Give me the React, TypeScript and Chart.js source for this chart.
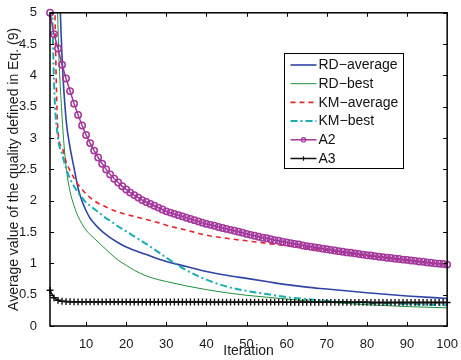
import React, { useEffect, useRef } from "react";
import { Chart, registerables } from "chart.js";

Chart.register(...registerables);

// ---------- data ----------
const seriesLabels = ["RD\u2212average", "RD\u2212best", "KM\u2212average", "KM\u2212best", "A2", "A3"];

const lineIterations = [1, 2, 3, 4, 5, 6, 7, 8, 9, 10, 11, 12, 13, 14, 15, 16, 18, 20, 22, 25, 28, 30, 35, 40, 45, 50, 55, 60, 65, 70, 80, 90, 100];

const rdAverage = [14, 10, 6.3, 4.3, 3.3, 2.85, 2.52, 2.2, 1.99, 1.84, 1.72, 1.64, 1.57, 1.51, 1.46, 1.41, 1.33, 1.26, 1.21, 1.14, 1.07, 1.03, 0.95, 0.87, 0.81, 0.76, 0.71, 0.66, 0.62, 0.59, 0.53, 0.48, 0.44];

const rdBest = [14, 8, 4.75, 3.35, 2.55, 2.15, 1.92, 1.75, 1.63, 1.53, 1.46, 1.4, 1.34, 1.28, 1.22, 1.16, 1.05, 0.97, 0.89, 0.8, 0.74, 0.71, 0.64, 0.58, 0.53, 0.49, 0.46, 0.43, 0.4, 0.38, 0.34, 0.31, 0.29];

const kmAverage = [12, 6.0, 3.1, 2.85, 2.62, 2.48, 2.36, 2.26, 2.18, 2.11, 2.05, 2.0, 1.96, 1.93, 1.9, 1.87, 1.82, 1.78, 1.75, 1.7, 1.65, 1.61, 1.53, 1.45, 1.4, 1.36, 1.32, 1.28, 1.245, 1.21, 1.12, 1.05, 0.98];

const kmBest = [7, 3.9, 3.0, 2.75, 2.52, 2.35, 2.23, 2.13, 2.05, 1.97, 1.92, 1.87, 1.82, 1.77, 1.72, 1.68, 1.59, 1.51, 1.43, 1.31, 1.18, 1.09, 0.89, 0.74, 0.63, 0.56, 0.51, 0.46, 0.43, 0.4, 0.37, 0.35, 0.33];

const markerIterations = [
  1, 2, 3, 4, 5, 6, 7, 8, 9, 10, 11, 12, 13, 14, 15, 16, 17, 18, 19, 20,
  21, 22, 23, 24, 25, 26, 27, 28, 29, 30, 31, 32, 33, 34, 35, 36, 37, 38, 39, 40,
  41, 42, 43, 44, 45, 46, 47, 48, 49, 50, 51, 52, 53, 54, 55, 56, 57, 58, 59, 60,
  61, 62, 63, 64, 65, 66, 67, 68, 69, 70, 71, 72, 73, 74, 75, 76, 77, 78, 79, 80,
  81, 82, 83, 84, 85, 86, 87, 88, 89, 90, 91, 92, 93, 94, 95, 96, 97, 98, 99, 100,
];

const a2Values = [
  5.0, 4.66, 4.43, 4.17, 3.95, 3.75, 3.55, 3.37, 3.2, 3.05,
  2.92, 2.8, 2.69, 2.59, 2.5, 2.42, 2.35, 2.29, 2.23, 2.18,
  2.13, 2.09, 2.05, 2.01, 1.98, 1.95, 1.92, 1.89, 1.86, 1.83,
  1.81, 1.79, 1.77, 1.75, 1.73, 1.71, 1.69, 1.67, 1.65, 1.63,
  1.615, 1.6, 1.58, 1.565, 1.55, 1.535, 1.52, 1.505, 1.49, 1.47,
  1.455, 1.44, 1.425, 1.41, 1.4, 1.385, 1.37, 1.36, 1.345, 1.335,
  1.32, 1.31, 1.3, 1.285, 1.275, 1.265, 1.255, 1.245, 1.235, 1.225,
  1.215, 1.205, 1.195, 1.185, 1.175, 1.17, 1.16, 1.15, 1.14, 1.13,
  1.125, 1.115, 1.105, 1.1, 1.09, 1.085, 1.075, 1.07, 1.06, 1.055,
  1.045, 1.04, 1.03, 1.025, 1.015, 1.01, 1.0, 0.995, 0.99, 0.98,
];

const a3Values = [
  0.57, 0.45, 0.41, 0.395, 0.39, 0.388, 0.386, 0.385, 0.385, 0.385,
  0.385, 0.385, 0.385, 0.385, 0.385, 0.385, 0.385, 0.385, 0.385, 0.385,
  0.383, 0.383, 0.383, 0.383, 0.383, 0.383, 0.383, 0.383, 0.383, 0.383,
  0.383, 0.383, 0.383, 0.383, 0.383, 0.383, 0.383, 0.383, 0.383, 0.383,
  0.38, 0.38, 0.38, 0.38, 0.38, 0.38, 0.38, 0.38, 0.38, 0.38,
  0.38, 0.38, 0.38, 0.38, 0.38, 0.38, 0.38, 0.38, 0.38, 0.38,
  0.378, 0.378, 0.378, 0.378, 0.378, 0.378, 0.378, 0.378, 0.378, 0.378,
  0.378, 0.378, 0.378, 0.378, 0.378, 0.378, 0.378, 0.378, 0.378, 0.378,
  0.376, 0.376, 0.376, 0.376, 0.376, 0.376, 0.376, 0.376, 0.376, 0.376,
  0.376, 0.376, 0.376, 0.376, 0.376, 0.376, 0.376, 0.376, 0.376, 0.376,
];

const xTickValues = [10, 20, 30, 40, 50, 60, 70, 80, 90, 100];
const yTickValues = [0, 0.5, 1, 1.5, 2, 2.5, 3, 3.5, 4, 4.5, 5];

const xTitle = "Iteration";
const yTitle = "Average value of the quality defined in Eq. (9)";

// ---------- helpers ----------
const FONT = "'Liberation Sans', Arial, Helvetica, sans-serif";

function pairs(xs: number[], ys: number[]) {
  return xs.map((x, i) => ({ x, y: ys[i] }));
}

function drawMarker(ctx: CanvasRenderingContext2D, style: string, x: number, y: number, r: number) {
  ctx.beginPath();
  if (style === "circle") {
    ctx.arc(x, y, r, 0, Math.PI * 2);
  } else if (style === "cross") {
    ctx.moveTo(x - r, y);
    ctx.lineTo(x + r, y);
    ctx.moveTo(x, y - r);
    ctx.lineTo(x, y + r);
  }
  ctx.stroke();
}

const framePlugin = {
  id: "matlabFrame",
  afterDatasetsDraw(chart: any) {
    const { ctx, chartArea, scales } = chart;
    const { left, right, top, bottom } = chartArea;
    const tl = 4;
    ctx.save();
    ctx.strokeStyle = "#000";
    ctx.lineWidth = 1;
    ctx.setLineDash([]);
    ctx.beginPath();
    for (const v of xTickValues) {
      const px = Math.round(scales.x.getPixelForValue(v)) + 0.5;
      ctx.moveTo(px, bottom);
      ctx.lineTo(px, bottom - tl);
      ctx.moveTo(px, top);
      ctx.lineTo(px, top + tl);
    }
    for (const v of yTickValues) {
      const py = Math.round(scales.y.getPixelForValue(v)) + 0.5;
      ctx.moveTo(left, py);
      ctx.lineTo(left + tl, py);
      ctx.moveTo(right, py);
      ctx.lineTo(right - tl, py);
    }
    ctx.stroke();
    ctx.lineWidth = 1.5;
    ctx.strokeRect(left, top, right - left, bottom - top);
    ctx.restore();
  },
};

const legendPlugin = {
  id: "boxLegend",
  afterDraw(chart: any) {
    const { ctx, chartArea } = chart;
    const bx = Math.round(chartArea.right - 163) + 0.5;
    const by = Math.round(chartArea.top + 40) + 0.5;
    const bw = 119;
    const bh = 115;
    ctx.save();
    ctx.fillStyle = "#fff";
    ctx.fillRect(bx, by, bw, bh);
    ctx.strokeStyle = "#000";
    ctx.lineWidth = 1;
    ctx.setLineDash([]);
    ctx.strokeRect(bx, by, bw, bh);
    chart.data.datasets.forEach((ds: any, i: number) => {
      const cy = by + 11.5 + i * 18.7;
      const x0 = bx + 6;
      const x1 = bx + 32;
      ctx.strokeStyle = ds.borderColor;
      ctx.lineWidth = ds.borderWidth;
      ctx.setLineDash(ds.borderDash || []);
      ctx.beginPath();
      ctx.moveTo(x0, cy);
      ctx.lineTo(x1, cy);
      ctx.stroke();
      ctx.setLineDash([]);
      if (ds.pointRadius > 0) {
        ctx.lineWidth = 1.2;
        drawMarker(ctx, ds.pointStyle, (x0 + x1) / 2, cy, 2.2);
      }
      ctx.fillStyle = "#111";
      ctx.font = `14px ${FONT}`;
      ctx.textBaseline = "middle";
      ctx.textAlign = "left";
      ctx.fillText(ds.label, bx + 34, cy + 0.5);
    });
    ctx.restore();
  },
};

export default function App() {
  const canvasRef = useRef<HTMLCanvasElement | null>(null);

  useEffect(() => {
    document.body.style.margin = "0";
    const canvas = canvasRef.current;
    if (!canvas) return;

    const chart = new Chart(canvas, {
      type: "line",
      data: {
        datasets: [
          {
            label: seriesLabels[0],
            data: pairs(lineIterations, rdAverage),
            borderColor: "#2f44a6",
            borderWidth: 1.6,
            pointRadius: 0,
            cubicInterpolationMode: "monotone",
            order: 5,
          },
          {
            label: seriesLabels[1],
            data: pairs(lineIterations, rdBest),
            borderColor: "#1f8f3e",
            borderWidth: 1,
            pointRadius: 0,
            cubicInterpolationMode: "monotone",
            order: 4,
          },
          {
            label: seriesLabels[2],
            data: pairs(lineIterations, kmAverage),
            borderColor: "#e3262b",
            borderWidth: 1.6,
            borderDash: [5, 4],
            pointRadius: 0,
            cubicInterpolationMode: "monotone",
            order: 3,
          },
          {
            label: seriesLabels[3],
            data: pairs(lineIterations, kmBest),
            borderColor: "#19adb1",
            borderWidth: 2,
            borderDash: [7, 3, 2, 3],
            pointRadius: 0,
            cubicInterpolationMode: "monotone",
            order: 2,
          },
          {
            label: seriesLabels[4],
            data: pairs(markerIterations, a2Values),
            borderColor: "#a3379b",
            borderWidth: 1.5,
            pointRadius: 3.2,
            pointStyle: "circle",
            pointBorderWidth: 1.5,
            pointBorderColor: "#a3379b",
            pointBackgroundColor: "rgba(255,255,255,0)",
            clip: false,
            order: 1,
          },
          {
            label: seriesLabels[5],
            data: pairs(markerIterations, a3Values),
            borderColor: "#111",
            borderWidth: 1.5,
            pointRadius: 3.4,
            pointStyle: "cross",
            pointBorderWidth: 1.4,
            pointBorderColor: "#111",
            clip: false,
            order: 0,
          },
        ] as any,
      },
      options: {
        responsive: false,
        animation: false,
        devicePixelRatio: 1,
        events: [],
        layout: { padding: { top: 11, right: 11, left: 0, bottom: 0 } },
        plugins: {
          legend: { display: false },
          tooltip: { enabled: false },
        },
        scales: {
          x: {
            type: "linear",
            min: 1,
            max: 100,
            grid: { display: false },
            border: { display: false },
            afterBuildTicks: (s: any) => {
              s.ticks = xTickValues.map((v) => ({ value: v }));
            },
            afterFit: (s: any) => {
              s.height = 34;
            },
            ticks: {
              autoSkip: false,
              maxRotation: 0,
              padding: 3,
              color: "#1a1a1a",
              font: { family: FONT, size: 13 },
              callback: (v: any) => String(v),
            },
            title: {
              display: true,
              text: xTitle,
              color: "#1a1a1a",
              font: { family: FONT, size: 14 },
              padding: { top: 0, bottom: 0 },
            },
          },
          y: {
            type: "linear",
            min: 0,
            max: 5,
            grid: { display: false },
            border: { display: false },
            afterBuildTicks: (s: any) => {
              s.ticks = yTickValues.map((v) => ({ value: v }));
            },
            afterFit: (s: any) => {
              s.width = 50;
            },
            ticks: {
              autoSkip: false,
              padding: 5,
              color: "#1a1a1a",
              font: { family: FONT, size: 13 },
              callback: (v: any) => String(v),
            },
            title: {
              display: true,
              text: yTitle,
              color: "#1a1a1a",
              font: { family: FONT, size: 14 },
              padding: { top: 6, bottom: 0 },
            },
          },
        },
      } as any,
      plugins: [framePlugin, legendPlugin],
    });

    return () => {
      chart.destroy();
    };
  }, []);

  return (
    <div style={{ width: 461, height: 360 }}>
      <canvas ref={canvasRef} width={461} height={360} style={{ display: "block", width: 461, height: 360 }} />
    </div>
  );
}
